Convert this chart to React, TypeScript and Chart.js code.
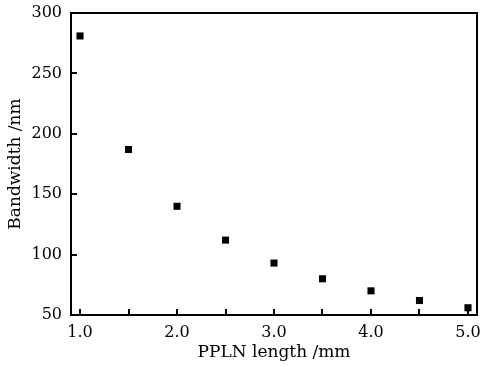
import React, { useEffect, useRef } from "react";
import { Chart, registerables } from "chart.js";

Chart.register(...registerables);

const lengths = [1.0, 1.5, 2.0, 2.5, 3.0, 3.5, 4.0, 4.5, 5.0];
const bandwidths = [281, 187, 140, 112, 93, 80, 70, 62, 56];
const xTicks = [1.0, 1.5, 2.0, 2.5, 3.0, 3.5, 4.0, 4.5, 5.0];
const yTicks = [50, 100, 150, 200, 250, 300];
const xTitle = "PPLN length /mm";
const yTitle = "Bandwidth /nm";

const FONT = "'DejaVu Serif', serif";

const framePlugin = {
  id: "frame",
  beforeDatasetsDraw(chart: any) {
    const { ctx, chartArea } = chart;
    const xs = chart.scales.x;
    const ys = chart.scales.y;
    ctx.save();
    ctx.strokeStyle = "#000";
    ctx.lineWidth = 2;
    ctx.strokeRect(chartArea.left, chartArea.top, chartArea.right - chartArea.left, chartArea.bottom - chartArea.top);
    ctx.beginPath();
    xTicks.forEach((v) => {
      const px = Math.round(xs.getPixelForValue(v));
      ctx.moveTo(px, chartArea.bottom);
      ctx.lineTo(px, chartArea.bottom - 6);
    });
    yTicks.forEach((v) => {
      if (v === 50 || v === 300) return;
      const py = Math.round(ys.getPixelForValue(v));
      ctx.moveTo(chartArea.left, py);
      ctx.lineTo(chartArea.left + 6, py);
    });
    ctx.stroke();
    ctx.restore();
  },
};

export default function App() {
  const ref = useRef<HTMLCanvasElement>(null);
  useEffect(() => {
    document.body.style.margin = "0";
    document.body.style.background = "#fff";
    const chart = new Chart(ref.current!, {
      type: "scatter",
      data: {
        datasets: [
          {
            data: lengths.map((x, i) => ({ x, y: bandwidths[i] })),
            pointStyle: "rect",
            pointRadius: 5,
            pointBackgroundColor: "#000",
            pointBorderWidth: 0,
            showLine: false,
          },
        ],
      },
      options: {
        responsive: false,
        animation: false,
        layout: { padding: { left: 0, right: 7, top: 13, bottom: 0 } },
        plugins: { legend: { display: false }, tooltip: { enabled: false } },
        scales: {
          x: {
            type: "linear",
            min: 0.907,
            max: 5.093,
            grid: { display: false, drawTicks: false },
            border: { display: false },
            afterBuildTicks: (s: any) => {
              s.ticks = xTicks.map((v) => ({ value: v }));
            },
            afterFit: (s: any) => {
              s.height = 52;
              s.paddingLeft = 0;
              s.paddingRight = 0;
            },
            ticks: {
              padding: 8,
              color: "#000",
              font: { family: FONT, size: 16 },
              maxRotation: 0,
              autoSkip: false,
              callback: (v: any) => (Math.abs(v - Math.round(v)) < 1e-6 ? Number(v).toFixed(1) : ""),
            },
            title: {
              display: true,
              text: xTitle,
              color: "#000",
              font: { family: FONT, size: 17 },
              padding: { top: 0, bottom: 4 },
            },
          },
          y: {
            type: "linear",
            min: 50,
            max: 300,
            grid: { display: false, drawTicks: false },
            border: { display: false },
            afterBuildTicks: (s: any) => {
              s.ticks = yTicks.map((v) => ({ value: v }));
            },
            afterFit: (s: any) => {
              s.width = 71;
              s.paddingTop = 0;
              s.paddingBottom = 0;
            },
            ticks: {
              padding: 9,
              color: "#000",
              font: { family: FONT, size: 16 },
              autoSkip: false,
            },
            title: {
              display: true,
              text: yTitle,
              color: "#000",
              font: { family: FONT, size: 17 },
              padding: { top: 5, bottom: 0 },
            },
          },
        },
      },
      plugins: [framePlugin],
    });
    return () => chart.destroy();
  }, []);
  return <canvas ref={ref} width={484} height={367} style={{ display: "block" }} />;
}
